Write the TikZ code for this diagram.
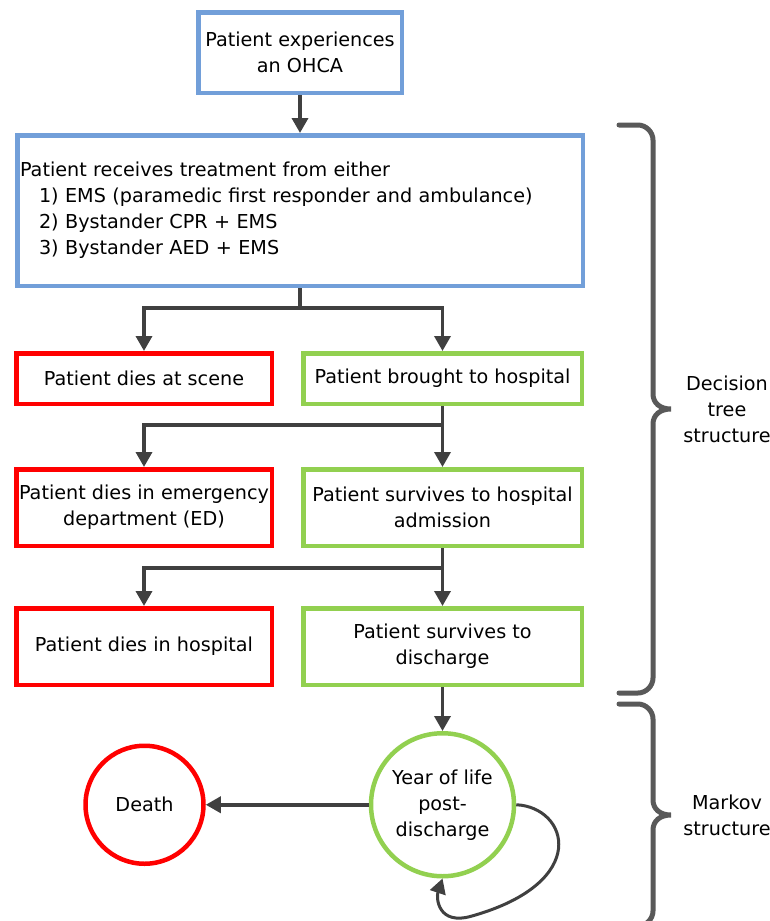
\documentclass[tikz,border=0pt]{standalone}
\usepackage{fontspec}
\setmainfont{DejaVu Sans}
\usepackage{tikz}
\usetikzlibrary{arrows.meta,positioning}
\definecolor{ohcablue}{RGB}{114,159,217}
\definecolor{ohcared}{RGB}{255,0,0}
\definecolor{ohcagreen}{RGB}{146,208,80}
\definecolor{ohcadark}{RGB}{64,64,64}
\definecolor{ohcabrace}{RGB}{89,89,89}
\tikzset{
  ohcabox/.style={
    rectangle,
    line width=4.5pt,
    align=center,
    inner sep=2pt,
    font=\fontsize{19.2}{26}\selectfont
  },
  startbox/.style={
    ohcabox,
    draw=ohcablue,
    minimum width=203.5pt,
    minimum height=80.5pt
  },
  treatbox/.style={
    ohcabox,
    draw=ohcablue,
    minimum width=565.5pt,
    minimum height=150.5pt,
    text width=560pt,
    align=left
  },
  deadbox/.style={
    ohcabox,
    draw=ohcared,
    minimum width=255.5pt
  },
  alivebox/.style={
    ohcabox,
    draw=ohcagreen,
    minimum width=278.5pt
  },
  markovstate/.style={
    circle,
    line width=4.5pt,
    align=center,
    inner sep=0pt,
    font=\fontsize{19.2}{26}\selectfont
  },
  ohcaarrow/.style={
    -{Triangle[length=15pt,width=16pt]},
    line width=3.5pt,
    draw=ohcadark
  },
  bracestroke/.style={
    line width=5pt,
    draw=ohcabrace,
    line cap=round
  },
  bracelabel/.style={
    align=center,
    inner sep=0pt,
    font=\fontsize{19.2}{26}\selectfont
  }
}

\begin{document}
\begin{tikzpicture}[x=1pt,y=-1pt]
\useasboundingbox (0,0) rectangle (770,921);

\node[startbox] (ohca) at (300,52.5) {Patient experiences\\an OHCA};
\node[treatbox, below=38pt of ohca] (treat) {Patient receives treatment from either\\
  \hspace*{19pt}1) EMS (paramedic first responder and ambulance)\\
  \hspace*{19pt}2) Bystander CPR + EMS\\
  \hspace*{19pt}3) Bystander AED + EMS};

\node[deadbox, minimum height=50.5pt] (scene) at (144,378.5) {Patient dies at scene};
\node[alivebox, minimum height=50.5pt, right=27pt of scene] (hosp) {Patient brought to hospital};
\node[deadbox, minimum height=76.5pt, below=61pt of scene] (ed) {Patient dies in emergency\\department (ED)};
\node[alivebox, minimum height=76.5pt, right=27pt of ed] (admit) {Patient survives to hospital\\admission};
\node[deadbox, minimum height=76.5pt, below=58pt of ed] (dieshosp) {Patient dies in hospital};
\node[alivebox, minimum height=76.5pt, right=27pt of dieshosp] (discharge) {Patient survives to\\discharge};

\node[markovstate, draw=ohcagreen, minimum size=143pt, below=44pt of discharge] (year) {Year of life\\post-\\discharge};
\node[markovstate, draw=ohcared, minimum size=118pt, left=163pt of year] (death) {Death};

\draw[ohcaarrow] (ohca) -- (treat);
\draw[ohcaarrow] (treat.south) -- ++(0,20) -| (scene.north);
\draw[ohcaarrow] (treat.south) -- ++(0,20) -| (hosp.north);
\draw[ohcaarrow] (hosp.south) -- ++(0,19) -| (ed.north);
\draw[ohcaarrow] (hosp) -- (admit);
\draw[ohcaarrow] (admit.south) -- ++(0,20) -| (dieshosp.north);
\draw[ohcaarrow] (admit) -- (discharge);
\draw[ohcaarrow] (discharge) -- (year);
\draw[ohcaarrow] (year) -- (death);
\draw[ohcaarrow, line width=3pt] (year.east) .. controls (568,807) and (592,882) .. (472,916)
  .. controls (438,926) and (436,898) .. (year.south);

% braces on the right
\draw[bracestroke] (619,125) -- (638,125) .. controls (646,125) and (653,132) .. (653,140)
  -- (653,394) .. controls (653,403) and (660,409) .. (671,409)
  .. controls (660,409) and (653,415) .. (653,424)
  -- (653,678) .. controls (653,686) and (646,693) .. (638,693) -- (619,693);
\draw[bracestroke] (619,704) -- (638,704) .. controls (646,704) and (653,711) .. (653,719)
  -- (653,800) .. controls (653,809) and (660,815) .. (671,815)
  .. controls (660,815) and (653,821) .. (653,830)
  -- (653,911) .. controls (653,919) and (646,926) .. (638,926) -- (619,926);

\node[bracelabel] (dtlabel) at (727,409) {Decision\\tree\\structure};
\node[bracelabel] (mklabel) at (727,815) {Markov\\structure};
\end{tikzpicture}
\end{document}
